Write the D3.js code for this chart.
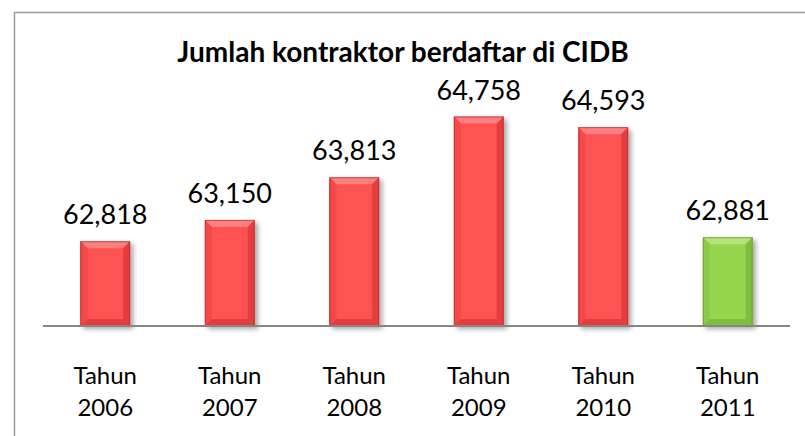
<!DOCTYPE html>
<html>
<head>
  <meta charset="utf-8">
  <title>Jumlah kontraktor berdaftar di CIDB</title>
  <script src="https://d3js.org/d3.v7.min.js"></script>
  <style>
    body { margin: 0; background: #fff; }
    text { font-family: Lato, "Open Sans", sans-serif; fill: #000; }
  </style>
</head>
<body>
  <script>
    // data
    var years = ["2006", "2007", "2008", "2009", "2010", "2011"];
    var catPrefix = "Tahun";
    var values = [62818, 63150, 63813, 64758, 64593, 62881];
    var highlight = ["2011"];
    var title = "Jumlah kontraktor berdaftar di CIDB";

    var width = 805, height = 436;
    var plot = { left: 43, right: 790, top: 101, bottom: 326 };

    var svg = d3.select("body").append("svg")
      .attr("width", width).attr("height", height);

    // chart frame
    svg.append("rect")
      .attr("x", 14.5).attr("y", 12.5)
      .attr("width", 800).attr("height", 440)
      .attr("fill", "#fff").attr("stroke", "#9a9a9a").attr("stroke-width", 1.5);

    var defs = svg.append("defs");
    var shadow = defs.append("filter").attr("id", "shadow")
      .attr("x", "-20%").attr("y", "-10%").attr("width", "150%").attr("height", "130%");
    shadow.append("feGaussianBlur").attr("in", "SourceAlpha").attr("stdDeviation", 2.5);
    shadow.append("feOffset").attr("dx", 3).attr("dy", 3).attr("result", "b");
    shadow.append("feComponentTransfer").append("feFuncA").attr("type", "linear").attr("slope", 0.35);
    var m = shadow.append("feMerge");
    m.append("feMergeNode");
    m.append("feMergeNode").attr("in", "SourceGraphic");

    var x = d3.scaleBand()
      .domain(years)
      .range([plot.left, plot.right])
      .paddingInner(0.6)
      .paddingOuter(0.3);

    var y = d3.scaleLinear()
      .domain([61500, 65000])
      .range([plot.bottom, plot.top]);

    var palettes = {
      red: { base: "#ff5252", light: "#ff7f7f", side: "#f44848", dark: "#e53d3d", edge: "#a02a2a" },
      green: { base: "#96d650", light: "#b3e47a", side: "#8ccb48", dark: "#7fbd3e", edge: "#5a8a28" }
    };

    var bars = svg.append("g").selectAll("g")
      .data(years.map(function (d, i) { return { year: d, value: values[i] }; }))
      .enter().append("g")
      .attr("filter", "url(#shadow)");

    bars.each(function (d) {
      var g = d3.select(this);
      var p = highlight.indexOf(d.year) >= 0 ? palettes.green : palettes.red;
      var x0 = x(d.year), x1 = x0 + x.bandwidth();
      var y0 = y(d.value), y1 = y(61500);
      var b = 7; // bevel size
      g.append("rect").attr("x", x0).attr("y", y0)
        .attr("width", x1 - x0).attr("height", y1 - y0).attr("fill", p.base);
      // top bevel
      g.append("path").attr("fill", p.light)
        .attr("d", "M" + x0 + "," + y0 + "L" + x1 + "," + y0 + "L" + (x1 - b) + "," + (y0 + b) + "L" + (x0 + b) + "," + (y0 + b) + "Z");
      // left bevel
      g.append("path").attr("fill", p.side)
        .attr("d", "M" + x0 + "," + y0 + "L" + (x0 + b) + "," + (y0 + b) + "L" + (x0 + b) + "," + (y1 - b) + "L" + x0 + "," + y1 + "Z");
      // right bevel
      g.append("path").attr("fill", p.dark)
        .attr("d", "M" + x1 + "," + y0 + "L" + (x1 - b) + "," + (y0 + b) + "L" + (x1 - b) + "," + (y1 - b) + "L" + x1 + "," + y1 + "Z");
      // bottom bevel
      g.append("path").attr("fill", p.dark)
        .attr("d", "M" + x0 + "," + y1 + "L" + (x0 + b) + "," + (y1 - b) + "L" + (x1 - b) + "," + (y1 - b) + "L" + x1 + "," + y1 + "Z");
      g.append("rect").attr("x", x0 + 0.5).attr("y", y0 + 0.5)
        .attr("width", x1 - x0 - 1).attr("height", y1 - y0 - 1)
        .attr("fill", "none").attr("stroke", p.edge).attr("stroke-opacity", 0.6);
    });

    // value labels
    svg.append("g").selectAll("text")
      .data(values)
      .enter().append("text")
      .attr("x", function (d, i) { return x(years[i]) + x.bandwidth() / 2; })
      .attr("y", function (d) { return y(d) - 17; })
      .attr("text-anchor", "middle")
      .attr("font-size", 27)
      .text(function (d) { return d3.format(",")(d); });

    // category axis
    var axis = svg.append("g")
      .attr("transform", "translate(0," + plot.bottom + ")")
      .call(d3.axisBottom(x).tickSize(0).tickFormat(""));
    axis.select(".domain").attr("stroke", "#868686").attr("stroke-width", 2)
      .attr("d", "M" + plot.left + ",0H" + plot.right);

    var cats = svg.append("g").selectAll("text")
      .data(years)
      .enter().append("text")
      .attr("x", function (d) { return x(d) + x.bandwidth() / 2; })
      .attr("text-anchor", "middle")
      .attr("font-size", 24);
    cats.append("tspan").attr("x", function (d) { return x(d) + x.bandwidth() / 2; })
      .attr("y", 384).text(catPrefix);
    cats.append("tspan").attr("x", function (d) { return x(d) + x.bandwidth() / 2; })
      .attr("y", 416).text(function (d) { return d; });

    // title
    svg.append("text")
      .attr("x", 403).attr("y", 62)
      .attr("text-anchor", "middle")
      .attr("font-size", 28).attr("font-weight", "bold")
      .text(title);
  </script>
</body>
</html>
